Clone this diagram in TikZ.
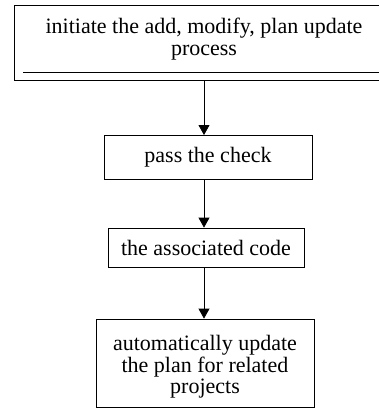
\documentclass[tikz,border=0pt]{standalone}
\usepackage{fontspec}
\setmainfont{Liberation Serif}
\usetikzlibrary{arrows.meta}
\begin{document}
\begin{tikzpicture}[x=1pt,y=-1pt,
  txt/.style={font=\fontsize{22}{21.5}\selectfont, align=center, inner sep=0pt},
  boxstyle/.style={draw, line width=0.8pt, inner sep=0pt, align=center, font=\fontsize{22}{21.5}\selectfont},
  arr/.style={line width=0.8pt, -{Triangle[length=10pt,width=11pt]}}]
\useasboundingbox (0,0) rectangle (379,408);
\node[draw, line width=0.8pt, minimum width=365pt, minimum height=75pt, anchor=north west, inner sep=0pt] (a) at (14,5) {};
\node[txt] (at) at (204,39) {initiate the add, modify, plan update\\process};
\coordinate (l1) at (23,72);
\coordinate (l2) at (379,72);
\draw[line width=0.8pt] (l1) -- (l2);
\node[boxstyle, minimum width=208pt, minimum height=44pt] (b) at (208,157) {pass the check};
\node[boxstyle, minimum width=196pt, minimum height=39pt] (c) at (206,247.5) {the associated code};
\node[draw, line width=0.8pt, minimum width=218pt, minimum height=88pt, inner sep=0pt] (d) at (205,363) {};
\node[txt] (dt) at (205,367) {automatically update\\the plan for related\\projects};
\coordinate (a1) at (204,80);
\coordinate (b1) at (204,135);
\draw[arr] (a1) -- (b1);
\draw[arr] (204,179) -- (c.north -| 204,0);
\draw[arr] (204,267) -- (d.north -| 204,0);
\end{tikzpicture}
\end{document}
